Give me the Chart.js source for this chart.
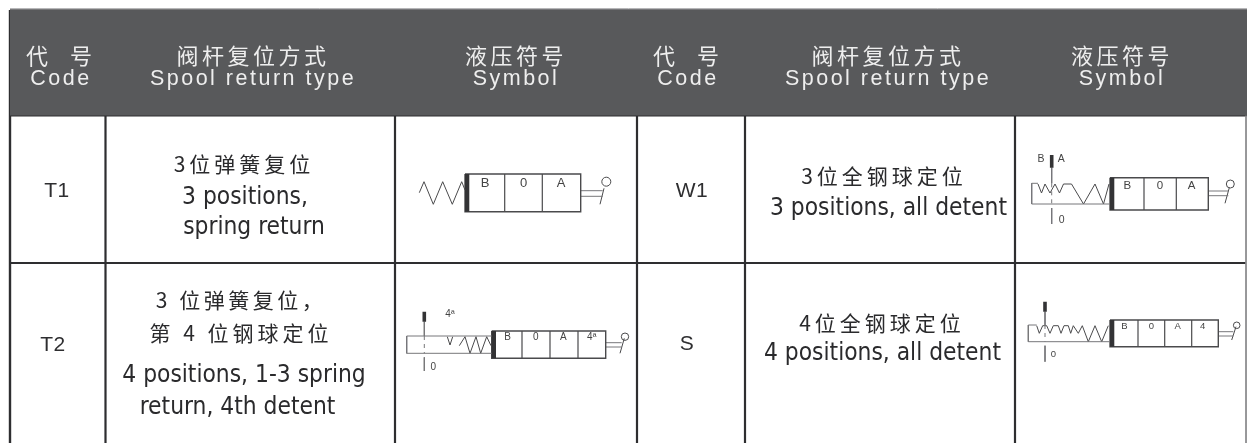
<!DOCTYPE html>
<html>
<head>
<meta charset="utf-8">
<script src="https://cdn.jsdelivr.net/npm/chart.js@4"></script>
<style>
html, body { margin: 0; padding: 0; background: #fff; }
canvas { display: block; }
</style>
</head>
<body>
<canvas id="chart" width="1247" height="443"></canvas>
<script>
// table text
const headerZh = ['代  号', '阀杆复位方式', '液压符号', '代  号', '阀杆复位方式', '液压符号'];
const headerEn = ['Code', 'Spool return type', 'Symbol', 'Code', 'Spool return type', 'Symbol'];
const codes = ['T1', 'W1', 'T2', 'S'];
const returnZh = [['3位弹簧复位'], ['3位全钢球定位'], ['3 位弹簧复位，', '第 4 位钢球定位'], ['4位全钢球定位']];
const returnEn = [['3 positions,', 'spring return'], ['3 positions, all detent'], ['4 positions, 1-3 spring', 'return, 4th detent'], ['4 positions, all detent']];

// table rules, in axis units
const columnEdges = [10, 105.5, 395, 637, 745, 1015, 1246];
const rowEdges = [10, 115.5, 263, 443];

// springs and detents of each symbol, in axis units
const t1Spring = [[419.3, 192.7], [424, 181.7], [433.3, 204.3], [442.7, 181.7], [452.3, 204.3], [461.7, 181.7], [465, 190]];
const w1Spring = [[1038, 184], [1041.5, 193], [1045, 184], [1050, 193], [1055, 184], [1059.5, 193], [1063.5, 184], [1071.5, 184], [1083.5, 204], [1095, 184], [1103.5, 204], [1109, 184]];
const t2Spring = [[447.3, 336.7], [450, 345], [452.7, 336.7]];
const t2Spring2 = [[459.3, 345.7], [465, 336.7], [470, 353.3], [476, 336.7], [480.7, 353.3], [486.7, 336.7], [491, 345.7]];
const sSpring = [[1036.7, 325.7], [1039.3, 333.3], [1042.7, 325.7], [1046.7, 325.7], [1050, 333.3], [1053.3, 325.7], [1058.3, 325.7], [1061, 333.3], [1064, 325.7], [1068.3, 325.7], [1070.7, 333.3], [1073.3, 325.7], [1078.3, 333.3], [1082.3, 325.7], [1088.3, 341.7], [1095, 325.7], [1101.7, 341.7], [1108.3, 325.7]];

const rule = '#2e2e30';
const ink = '#4a4a4c';
const datasets = [];

function path(points, color, width, extra) {
    datasets.push(Object.assign({
        data: points.map(p => ({ x: p[0], y: p[1] })),
        showLine: true,
        borderColor: color,
        backgroundColor: color,
        borderWidth: width,
        pointRadius: 0,
        fill: false,
    }, extra || {}));
}

function fillBox(x0, x1, y0, y1, color) {
    path([[x0, y0], [x1, y0], [x1, y1], [x0, y1], [x0, y0]], color, 0, { fill: 'shape' });
}

function valve(x0, x1, y0, y1, dividers, leverY, leverX, lever, knob, knobR) {
    fillBox(x0, x0 + 4.3, y0, y1, '#333335');
    path([[x0, y0], [x1, y0], [x1, y1], [x0, y1], [x0, y0]], ink, 1.4);
    dividers.forEach(d => path([[d, y0], [d, y1]], ink, 1.2));
    path([[x1, leverY[0]], [leverX, leverY[0]]], '#77777a', 1);
    path([[x1, leverY[1]], [leverX, leverY[1]]], '#77777a', 1);
    path(lever, ink, 1);
    path([knob], ink, 0, { pointRadius: knobR, pointBackgroundColor: '#fff', pointBorderColor: ink, pointBorderWidth: 1 });
}

function detentBox(x0, x1, y0, y1, topTo) {
    path([[topTo, y0], [x0, y0], [x0, y1], [x1, y1]], '#77777a', 1);
}

function stem(x, markTop, markBot, boxTop, boxBot, lowBot) {
    fillBox(x - 1.8, x + 1.8, markTop, markBot, '#333335');
    path([[x, markBot], [x, boxTop]], '#77777a', 1);
    path([[x, boxTop], [x, boxBot]], '#77777a', 1, { borderDash: [4, 4] });
    path([[x, boxBot + 4], [x, lowBot]], '#77777a', 1);
}

// header band and rules
fillBox(columnEdges[0], 1247, rowEdges[0], rowEdges[1], '#58595b');
columnEdges.forEach((x, i) => {
    const top = i === 6 ? rowEdges[1] : rowEdges[0];
    const color = i === 6 ? '#8a8a8c' : rule;
    const w = i === 0 ? 2.4 : i === 6 ? 1 : 2.2;
    path([[x, top], [x, rowEdges[3]]], color, w);
});
path([[columnEdges[0], 8.8], [1247, 8.8]], '#9a9a9c', 1);
path([[columnEdges[0], rowEdges[0]], [1247, rowEdges[0]]], '#3a3a3c', 1.6);
path([[columnEdges[0], rowEdges[1]], [1247, rowEdges[1]]], rule, 2.2);
path([[columnEdges[0], rowEdges[2]], [1246, rowEdges[2]]], rule, 2);

// T1
path(t1Spring, ink, 1);
valve(465, 580.7, 174, 211.7, [504.7, 542.3], [190.7, 196.3], 602.7, [[600, 204.3], [604, 188.3]], [606.3, 181.7], 4.5);

// W1
detentBox(1031.7, 1110, 183.3, 204, 1038);
stem(1051.7, 155, 167.7, 183.3, 204, 224);
path(w1Spring, ink, 1);
valve(1110, 1208.3, 177.7, 210, [1144, 1176.3], [191, 195.7], 1228.3, [[1225, 203.3], [1229.3, 187.7]], [1230.3, 184], 4);

// T2
detentBox(406.7, 491.7, 336, 353.3, 491.7);
stem(424.3, 311.7, 321.7, 336, 353.3, 371);
path(t2Spring, ink, 1);
path(t2Spring2, ink, 1);
valve(491.7, 605.7, 331, 358.3, [522, 550, 578], [342.7, 347], 621.7, [[620, 353.3], [624.3, 338.3]], [625, 336.7], 3.7);

// S
detentBox(1028.3, 1110, 325, 341.7, 1036.7);
stem(1045, 301.7, 311.7, 325, 341.7, 361.7);
path(sSpring, ink, 1);
valve(1110, 1218.3, 320, 346.7, [1138, 1164.7, 1191.7], [331.7, 336], 1233.3, [[1231.7, 340], [1236, 326.7]], [1236.7, 325.3], 3.3);

const zhFont = '"Noto Sans CJK SC"';
const enFont = '"Liberation Sans"';
const bodyFont = '"DejaVu Sans Condensed", "DejaVu Sans"';

const tableText = {
    id: 'tableText',
    afterDatasetsDraw(chart) {
        const { ctx, scales } = chart;
        const put = (text, x, y, font, color, spacing) => {
            ctx.font = font;
            ctx.fillStyle = color;
            ctx.letterSpacing = (spacing || 0) + 'px';
            ctx.textAlign = 'center';
            ctx.textBaseline = 'middle';
            ctx.fillText(text, scales.x.getPixelForValue(x), scales.y.getPixelForValue(y));
        };
        ctx.save();

        // header centres
        const headerX = [61, 253, 516, 688, 888, 1122];
        headerZh.forEach((t, i) => {
            put(t, headerX[i], 56, '22px ' + zhFont, '#eeeeee', i % 3 === 0 ? 4 : 3.5);
            put(headerEn[i], headerX[i], 79, '21.5px ' + enFont, '#eeeeee', 2.5);
        });

        // code cells
        const cf = '21px ' + enFont;
        put(codes[0], 57, 191, cf, '#2e2e30', 0.5);
        put(codes[1], 692, 191, cf, '#2e2e30', 0.5);
        put(codes[2], 53, 345, cf, '#2e2e30', 0.5);
        put(codes[3], 687, 344, cf, '#2e2e30', 0.5);

        // spool return cells
        const zh = '21px ' + zhFont, en = '24.3px ' + bodyFont, c = '#2a2a2c';
        put(returnZh[0][0], 244, 164, zh, c, 4);
        put(returnEn[0][0], 245, 198, en, c);
        put(returnEn[0][1], 254, 228, en, c);
        put(returnZh[1][0], 884, 176, zh, c, 4);
        put(returnEn[1][0], 888.5, 209, en, c);
        put(returnZh[2][0], 241, 300, zh, c, 3.5);
        put(returnZh[2][1], 241, 333, zh, c, 4);
        put(returnEn[2][0], 244, 376, en, c);
        put(returnEn[2][1], 237.5, 408, en, c);
        put(returnZh[3][0], 882, 323, zh, c, 4);
        put(returnEn[3][0], 882.5, 354, en, c);

        // symbol lettering
        const k = '#444';
        [['B', 485, 183, 13], ['0', 523.5, 183, 13], ['A', 561, 183, 13],
         ['B', 1041, 159.5, 10.5], ['A', 1061.3, 159.5, 10.5], ['0', 1061.7, 220, 10.5],
         ['B', 1127.3, 186, 11.5], ['0', 1160, 186, 11.5], ['A', 1191.7, 186, 11.5],
         ['4ª', 450, 314, 10], ['0', 433.3, 367.3, 10],
         ['B', 507.7, 337.5, 10], ['0', 535.7, 337.5, 10], ['A', 563.3, 337.5, 10], ['4ª', 591.7, 337.5, 10],
         ['0', 1053.3, 354.3, 9.5],
         ['B', 1124.3, 326.5, 9.5], ['0', 1151.3, 326.5, 9.5], ['A', 1177.7, 326.5, 9.5], ['4', 1202.7, 326.5, 9.5]
        ].forEach(l => put(l[0], l[1], l[2], l[3] + 'px ' + enFont, k));
        ctx.restore();
    },
};

new Chart(document.getElementById('chart'), {
    type: 'scatter',
    data: { datasets },
    plugins: [tableText],
    options: {
        responsive: false,
        animation: false,
        layout: { padding: 0, autoPadding: false },
        plugins: { legend: { display: false }, tooltip: { enabled: false } },
        scales: {
            x: { type: 'linear', display: false, min: 0, max: 1247 },
            y: { type: 'linear', display: false, min: 0, max: 443, reverse: true },
        },
    },
});
</script>
</body>
</html>
